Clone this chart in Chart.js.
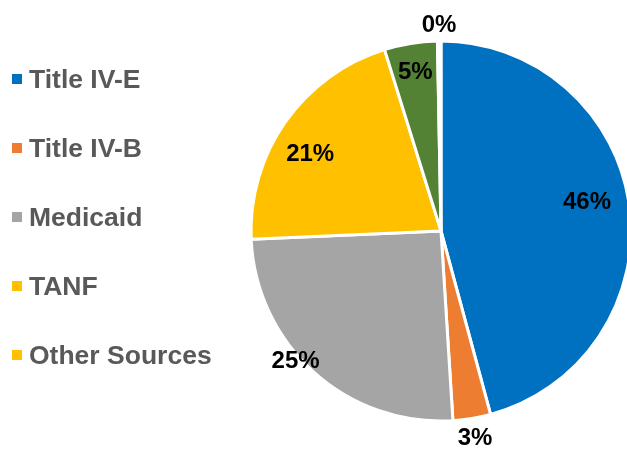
<!DOCTYPE html>
<html>
<head>
<meta charset="utf-8">
<script src="https://cdn.jsdelivr.net/npm/chart.js@4/dist/chart.umd.min.js"></script>
<style>
  body { margin: 0; background: #fff; }
  #wrap { position: relative; width: 627px; height: 449px; overflow: hidden; }
  #legend { position: absolute; left: 12px; top: 44.5px; }
  .item { height: 69px; white-space: nowrap;
          font: bold 26.5px "Liberation Sans", Arial, sans-serif; line-height: 69px; color: #595959; }
  .box { display: inline-block; width: 10px; height: 10px; margin-right: 7px; vertical-align: middle; position: relative; top: -2px; }
</style>
</head>
<body>
<div id="wrap">
  <canvas id="myChart" width="627" height="449"></canvas>
  <div id="legend"></div>
</div>
<script>
// slices, clockwise from 12 o'clock
const categories = ['Title IV-E', 'Title IV-B', 'Medicaid', 'TANF', 'Other Sources', 'Other'];
const shares = [45.8, 3.2, 25.3, 20.9, 4.5, 0.3];
const sliceColors = ['#0070C0', '#ED7D31', '#A5A5A5', '#FFC000', '#548235', '#FFFFFF'];

// legend as it appears in the picture (only five entries)
const legendLabels = ['Title IV-E', 'Title IV-B', 'Medicaid', 'TANF', 'Other Sources'];
const legendColors = ['#0070C0', '#ED7D31', '#A5A5A5', '#FFC000', '#FFC000'];

// build the legend
const legendEl = document.getElementById('legend');
legendLabels.forEach((name, i) => {
  const row = document.createElement('div');
  row.className = 'item';
  row.innerHTML = '<span class="box" style="background:' + legendColors[i] + '"></span>' + name;
  legendEl.appendChild(row);
});

// percentage labels, placed around each slice's middle angle
const pctLabels = {
  id: 'pctLabels',
  afterDatasetsDraw(chart, args, opts) {
    const ctx = chart.ctx;
    const meta = chart.getDatasetMeta(0);
    const values = chart.data.datasets[0].data;
    const total = values.reduce((a, b) => a + b, 0);
    ctx.save();
    ctx.font = 'bold 24px "Liberation Sans", Arial, sans-serif';
    ctx.fillStyle = '#000';
    ctx.textAlign = 'center';
    ctx.textBaseline = 'middle';
    meta.data.forEach((arc, i) => {
      const p = arc.getProps(['x', 'y', 'startAngle', 'endAngle', 'outerRadius'], true);
      const mid = (p.startAngle + p.endAngle) / 2 + opts.nudge[i] * Math.PI / 180;
      const r = p.outerRadius * opts.radial[i];
      const txt = Math.round(values[i] / total * 100) + '%';
      ctx.fillText(txt, p.x + Math.cos(mid) * r, p.y + Math.sin(mid) * r + 1);
    });
    ctx.restore();
  }
};

const ctx = document.getElementById('myChart').getContext('2d');
new Chart(ctx, {
  type: 'pie',
  data: {
    labels: categories,
    datasets: [{
      data: shares,
      backgroundColor: sliceColors,
      borderColor: '#ffffff',
      borderWidth: 3,
      clip: false
    }]
  },
  options: {
    responsive: false,
    animation: false,
    radius: 190,
    layout: { padding: { left: 255, right: 0, top: 13, bottom: 0 } },
    plugins: {
      legend: { display: false },
      tooltip: { enabled: false },
      pctLabels: {
        radial: [0.784, 1.1, 1.026, 0.8, 0.85, 1.09],
        nudge: [-3.8, 0, 6.3, -4.5, 0, 0]
      }
    }
  },
  plugins: [pctLabels]
});
</script>
</body>
</html>
